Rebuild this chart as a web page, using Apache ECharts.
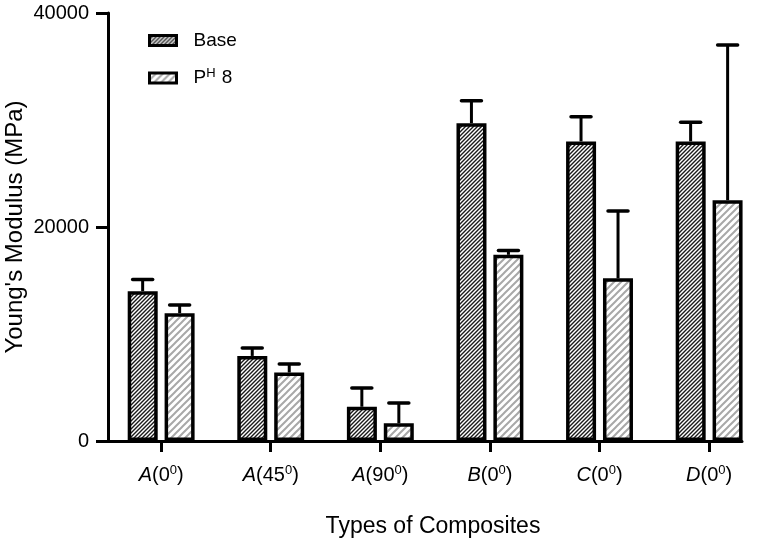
<!DOCTYPE html>
<html>
<head>
<meta charset="utf-8">
<script src="https://cdn.jsdelivr.net/npm/echarts@6/dist/echarts.min.js"></script>
<style>
  html, body { margin: 0; padding: 0; background: #fff; }
  #chart { width: 762px; height: 544px; }
</style>
</head>
<body>
<div id="chart"></div>
<script>
// categories: letter (italic) + fibre angle
var letters = ['A', 'A', 'A', 'B', 'C', 'D'];
var angles = ['0', '45', '90', '0', '0', '0'];

// Young's modulus, MPa (mean and error)
var baseMean = [14000, 7950, 3200, 29700, 28000, 28000];
var baseErr  = [1100, 750, 1750, 2100, 2300, 1800];
var ph8Mean  = [11950, 6400, 1650, 17400, 15200, 22500];
var ph8Err   = [750, 800, 1900, 400, 6300, 14500];

var yTicks = [0, 20000, 40000];

// diagonal hatch pattern
function hatch(size, color, lw) {
    var c = document.createElement('canvas');
    c.width = c.height = size;
    var g = c.getContext('2d');
    g.fillStyle = '#fff';
    g.fillRect(0, 0, size, size);
    g.strokeStyle = color;
    g.lineWidth = lw;
    g.beginPath();
    g.moveTo(-size / 2, size / 2); g.lineTo(size / 2, -size / 2);
    g.moveTo(0, size); g.lineTo(size, 0);
    g.moveTo(size / 2, size * 1.5); g.lineTo(size * 1.5, size / 2);
    g.stroke();
    return c;
}

var basePattern = { image: hatch(4, '#1a1a1a', 1.4), repeat: 'repeat' };
var ph8Pattern = { image: hatch(7, '#a8a8a8', 2), repeat: 'repeat' };

var positions = letters.map(function (l, i) { return i; });

function errData(mean, err) {
    return mean.map(function (m, i) { return [positions[i], m, m + err[i]]; });
}

function errRender(offset) {
    return function (params, api) {
        var x = api.value(0);
        var lo = api.coord([x, api.value(1)]);
        var hi = api.coord([x, api.value(2)]);
        var cx = lo[0] + offset;
        return {
            type: 'group',
            children: [
                { type: 'line', shape: { x1: cx, y1: lo[1], x2: cx, y2: hi[1] },
                  style: { stroke: '#000', lineWidth: 3 } },
                { type: 'line', shape: { x1: cx - 10, y1: hi[1], x2: cx + 10, y2: hi[1] },
                  style: { stroke: '#000', lineWidth: 3.5, lineCap: 'round' } }
            ]
        };
    };
}

var font = "'Liberation Sans', Arial, Helvetica, sans-serif";

var chart = echarts.init(document.getElementById('chart'));
chart.setOption({
    animation: false,
    textStyle: { fontFamily: font, color: '#000' },
    grid: { left: 108, right: 20, top: 13, bottom: 103, containLabel: false, outerBoundsMode: 'none' },
    legend: {
        orient: 'vertical',
        left: 143,
        top: 26,
        data: ['Base', 'PH 8'],
        icon: 'rect',
        itemWidth: 27,
        itemHeight: 10,
        itemGap: 17,
        itemStyle: { borderColor: '#000', borderWidth: 3 },
        textStyle: {
            fontSize: 19, color: '#000', padding: [0, 0, 0, 12],
            rich: { s: { fontSize: 13, padding: [0, 1, 9, 0] } }
        },
        formatter: function (name) {
            return name === 'PH 8' ? 'P{s|H} 8' : name;
        }
    },
    xAxis: {
        type: 'value',
        min: -0.485,
        max: 5.3,
        name: 'Types of Composites',
        nameLocation: 'middle',
        nameGap: 74,
        nameMoveOverlap: false,
        nameTextStyle: { fontSize: 23, color: '#000', padding: [0, 0, 0, 16] },
        splitLine: { show: false },
        axisLine: { onZero: false, lineStyle: { color: '#000', width: 3 } },
        axisTick: { customValues: positions, length: 11, lineStyle: { color: '#000', width: 3 } },
        axisLabel: {
            customValues: positions,
            margin: 23,
            fontSize: 20,
            color: '#000',
            formatter: function (v) {
                var i = Math.round(v);
                return '{i|' + letters[i] + '}(' + angles[i] + '{s|0})';
            },
            rich: {
                i: { fontStyle: 'italic', fontSize: 20 },
                s: { fontSize: 13, padding: [0, 0, 10, 0] }
            }
        }
    },
    yAxis: {
        type: 'value',
        min: 0,
        max: 40000,
        interval: 20000,
        name: "Young's Modulus (MPa)",
        nameLocation: 'middle',
        nameGap: 81,
        nameMoveOverlap: false,
        nameTextStyle: { fontSize: 24, color: '#000' },
        splitLine: { show: false },
        axisLine: { onZero: false, lineStyle: { color: '#000', width: 3 } },
        axisTick: { length: 12, lineStyle: { color: '#000', width: 3 } },
        axisLabel: { fontSize: 20, color: '#000', margin: 19,
            formatter: function (v) { return yTicks.indexOf(v) >= 0 ? String(v) : ''; } }
    },
    series: [
        {
            name: 'Base',
            type: 'bar',
            barWidth: 30,
            barGap: '23%',
            itemStyle: { color: basePattern, borderColor: '#000', borderWidth: 3.5 },
            data: baseMean.map(function (m, i) { return [positions[i], m]; })
        },
        {
            name: 'PH 8',
            type: 'bar',
            barWidth: 30,
            barGap: '23%',
            itemStyle: { color: ph8Pattern, borderColor: '#000', borderWidth: 3.5 },
            data: ph8Mean.map(function (m, i) { return [positions[i], m]; })
        },
        {
            type: 'custom',
            renderItem: errRender(-18.5),
            encode: { x: 0, y: [1, 2] },
            z: 3,
            data: errData(baseMean, baseErr)
        },
        {
            type: 'custom',
            renderItem: errRender(18.5),
            encode: { x: 0, y: [1, 2] },
            z: 3,
            data: errData(ph8Mean, ph8Err)
        }
    ]
});
</script>
</body>
</html>
